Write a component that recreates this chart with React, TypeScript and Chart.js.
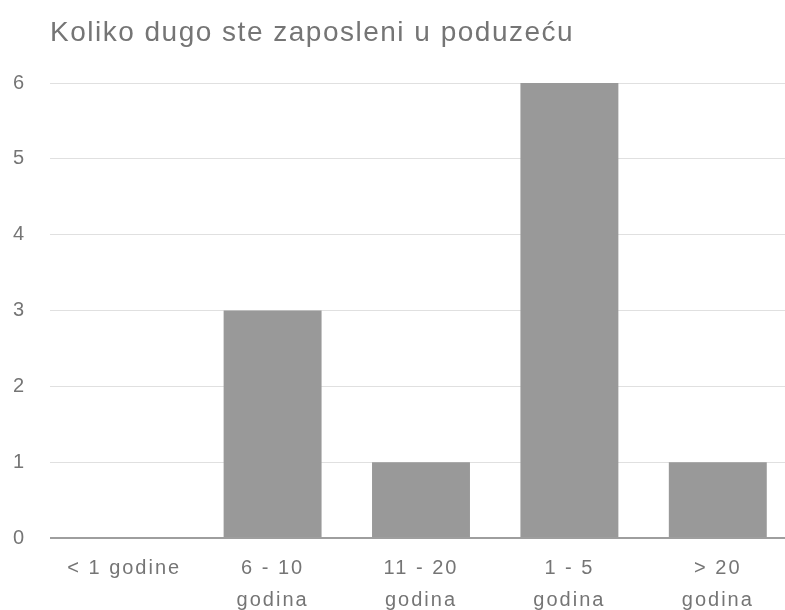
import React, { useEffect, useRef } from "react";
import { Chart, registerables } from "chart.js";

Chart.register(...registerables);

const title = "Koliko dugo ste zaposleni u poduzeću";
const categories: string[][] = [
  ["< 1 godine"],
  ["6 - 10", "godina"],
  ["11 - 20", "godina"],
  ["1 - 5", "godina"],
  ["> 20", "godina"],
];
const values: number[] = [0, 3, 1, 6, 1];
const yMax = 6;

const FONT = "'Liberation Sans', Arial, sans-serif";

const spacingPlugin = {
  id: "spacing",
  beforeLayout(chart: any) {
    chart.ctx.letterSpacing = "2px";
  },
  beforeDraw(chart: any) {
    chart.ctx.letterSpacing = "2px";
  },
};

const titlePlugin = {
  id: "leftTitle",
  afterDraw(chart: any) {
    const { ctx, chartArea } = chart;
    ctx.save();
    ctx.letterSpacing = "1.5px";
    ctx.font = "28px " + FONT;
    ctx.fillStyle = "#757575";
    ctx.textAlign = "left";
    ctx.textBaseline = "alphabetic";
    ctx.fillText(title, chartArea.left, 41);
    ctx.restore();
  },
};

export default function App() {
  const ref = useRef<HTMLCanvasElement | null>(null);
  useEffect(() => {
    if (!ref.current) return;
    const chart = new Chart(ref.current, {
      type: "bar",
      data: {
        labels: categories,
        datasets: [
          {
            data: values,
            backgroundColor: "#999999",
            borderWidth: 0,
            barPercentage: 0.66,
            categoryPercentage: 1,
          },
        ],
      },
      options: {
        responsive: false,
        animation: false,
        layout: { padding: { top: 83, right: 8, left: 0, bottom: 0 } },
        plugins: {
          legend: { display: false },
          tooltip: { enabled: false },
          title: { display: false },
        },
        scales: {
          x: {
            grid: { display: false, drawTicks: false },
            border: { display: false },
            ticks: {
              color: "#757575",
              font: { family: FONT, size: 20, lineHeight: 1.6 },
              padding: 14,
              maxRotation: 0,
              autoSkip: false,
            },
            afterFit(scale: any) {
              scale.height = 72;
            },
          },
          y: {
            min: 0,
            max: yMax,
            grid: {
              drawTicks: false,
              color: (c: any) => (c.tick && c.tick.value === 0 ? "#9e9e9e" : "#e0e0e0"),
              lineWidth: (c: any) => (c.tick && c.tick.value === 0 ? 2 : 1),
            },
            border: { display: false },
            ticks: {
              stepSize: 1,
              color: "#757575",
              font: { family: FONT, size: 20 },
              padding: 24,
            },
            afterFit(scale: any) {
              scale.width = 50;
            },
          },
        },
      },
      plugins: [spacingPlugin, titlePlugin],
    });
    return () => chart.destroy();
  }, []);
  return (
    <div style={{ position: "absolute", left: 0, top: 0, width: 785, height: 610, overflow: "hidden", background: "#fff" }}>
      <canvas ref={ref} width={800} height={610} style={{ width: 800, height: 610, display: "block" }} />
    </div>
  );
}
